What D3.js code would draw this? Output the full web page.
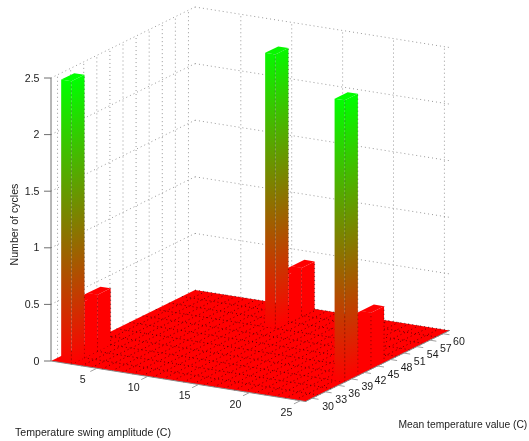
<!DOCTYPE html>
<html>
<head>
<meta charset="utf-8">
<script src="https://cdn.jsdelivr.net/npm/d3@7"></script>
<style>
html,body{margin:0;padding:0;background:#fff;overflow:hidden}
svg{display:block;filter:blur(0.4px)}
text{font-family:"Liberation Sans",Arial,sans-serif;font-size:10.6px;fill:#1c1c1c}
</style>
</head>
<body>
<svg id="chart" width="529" height="441"></svg>
<script>
// Data
const swingBins = [1,2,3,4,5,6,7,8,9,10,11,12,13,14,15,16,17,18,19,20,21,22,23,24,25];
const meanBins = [30,33,36,39,42,45,48,51,54,57,60];
const peakSwing = [2,2,2,11.75,11.75,11.75,25,25,25];
const peakMean = [30,33,36,54,57,60,39,42,45];
const peakCycles = [2.5,0.5,0.5,2.42,0.42,0.42,2.49,0.5,0.5];
const swingTicks = [5,10,15,20,25];
const meanTicks = [30,33,36,39,42,45,48,51,54,57,60];
const cycleTicks = [0,0.5,1,1.5,2,2.5];
const cycleTickLabels = ["0","0.5","1","1.5","2","2.5"];
const xLabel = "Temperature swing amplitude (C)";
const yLabel = "Mean temperature value (C)";
const zLabel = "Number of cycles";

// Oblique (parallel) projection built from linear scales
const uX = d3.scaleLinear().domain([0.5,25.5]).range([0,254.5]);
const uY = d3.scaleLinear().domain([0.5,25.5]).range([0,40.5]);
const vX = d3.scaleLinear().domain([28.5,61.5]).range([0,144]);
const vY = d3.scaleLinear().domain([28.5,61.5]).range([0,-71]);
const zY = d3.scaleLinear().domain([0,2.5]).range([0,-283]);
const color = d3.scaleLinear().domain([0,2.5]).range(["#ff0000","#00ff00"]);
const P = (u,v,z=0)=>[51+uX(u)+vX(v), 361+uY(u)+vY(v)+zY(z)];
const uMin=0.5,uMax=25.5,vMin=28.5,vMax=61.5;

const svg = d3.select("#chart");
const defs = svg.append("defs");
const gridG = svg.append("g");
const axisG = svg.append("g");
const floorG = svg.append("g");
const barG = svg.append("g");
const tickG = svg.append("g");

const seg = (g,a,b)=>g.append("line").attr("x1",a[0]).attr("y1",a[1]).attr("x2",b[0]).attr("y2",b[1]);
const dotted = l=>l.attr("stroke","#999").attr("stroke-width",1).attr("stroke-dasharray","1 3");

// Walls
cycleTicks.forEach(z=>{ if(z>0){
  dotted(seg(gridG,P(uMin,vMin,z),P(uMin,vMax,z)));
  dotted(seg(gridG,P(uMin,vMax,z),P(uMax,vMax,z)));
}});
meanTicks.forEach(v=>dotted(seg(gridG,P(uMin,v,0),P(uMin,v,2.5))));
swingTicks.forEach(u=>dotted(seg(gridG,P(u,vMax,0),P(u,vMax,2.5))));

const pts = a=>a.map(p=>p.join(",")).join(" ");
const edge = (g,a,b,op)=>seg(g,a,b).attr("stroke","#000").attr("stroke-opacity",op)
  .attr("stroke-width",1).attr("stroke-dasharray","1 3");

// Floor of empty cells
floorG.append("polygon")
  .attr("points",pts([P(uMin,vMin),P(uMax,vMin),P(uMax,vMax),P(uMin,vMax)]))
  .attr("fill",color(0));
swingBins.forEach(u=>edge(floorG,P(u+0.5,vMin),P(u+0.5,vMax),0.6));
meanBins.forEach(v=>edge(floorG,P(uMin,v+1.5),P(uMax,v+1.5),0.6));

// Bars, back to front
let gid=0;
function faceGradient(a,b,h){
  const H=[0,zY(h)], d=[b[0]-a[0],b[1]-a[1]], n=[-d[1],d[0]];
  const k=(H[0]*n[0]+H[1]*n[1])/(n[0]*n[0]+n[1]*n[1]);
  const id="g"+(gid++);
  const g=defs.append("linearGradient").attr("id",id).attr("gradientUnits","userSpaceOnUse")
    .attr("x1",a[0]).attr("y1",a[1]).attr("x2",a[0]+n[0]*k).attr("y2",a[1]+n[1]*k);
  g.append("stop").attr("offset",0).attr("stop-color",color(0));
  g.append("stop").attr("offset",1).attr("stop-color",color(h));
  return "url(#"+id+")";
}
d3.range(peakSwing.length)
  .sort((a,b)=>d3.descending(peakMean[a],peakMean[b])||d3.ascending(peakSwing[a],peakSwing[b]))
  .forEach(i=>{
    const uc=peakSwing[i],vc=peakMean[i],h=peakCycles[i];
    const tall=h>1;
    const u0=uc-0.5,u1=uc+0.5,v0=vc-1.5,v1=vc+1.5;
    const a0=P(u0,v0),a1=P(u1,v0),a2=P(u1,v1);
    const t0=P(u0,v0,h),t1=P(u1,v0,h),t2=P(u1,v1,h),t3=P(u0,v1,h);
    barG.append("polygon").attr("points",pts([a0,a1,t1,t0])).attr("fill",tall?faceGradient(a0,a1,h):color(0));
    barG.append("polygon").attr("points",pts([a1,a2,t2,t1])).attr("fill",tall?faceGradient(a1,a2,h):color(0));
    barG.append("polygon").attr("points",pts([t0,t1,t2,t3])).attr("fill",tall?color(h):color(0));
    if(tall){
      seg(barG,a1,t1).attr("stroke","#000").attr("stroke-opacity",0.3).attr("stroke-width",1).attr("stroke-dasharray","2 2");
      edge(barG,a2,t2,0.4);
    } else {
      edge(barG,a2,t2,0.5);
    }
  });

// Axes
const axisStroke = (l,c)=>l.attr("stroke",c).attr("stroke-width",1);
axisStroke(seg(axisG,P(uMin,vMin,0),P(uMin,vMin,2.5)),"#6e6e6e");
axisStroke(seg(tickG,P(uMin,vMin,0),P(uMax,vMin,0)),"#8a8a8a");
axisStroke(seg(tickG,P(uMax,vMin,0),P(uMax,vMax,0)),"#8a8a8a");

cycleTicks.forEach((z,i)=>{
  const p=P(uMin,vMin,z);
  axisStroke(seg(tickG,[p[0]-7,p[1]],p),"#6e6e6e");
  tickG.append("text").attr("x",p[0]-11.5).attr("y",p[1]+3.5).attr("text-anchor","end").text(cycleTickLabels[i]);
});
swingTicks.forEach(u=>{
  const p=P(u,vMin,0);
  axisStroke(seg(tickG,p,[p[0]-6.5,p[1]+3.2]),"#a0a0a0");
  tickG.append("text").attr("x",p[0]-14).attr("y",p[1]+15).attr("text-anchor","middle").text(u);
});
meanTicks.forEach(v=>{
  const p=P(uMax,v,0);
  axisStroke(seg(tickG,p,[p[0]+6.5,p[1]+1]),"#a0a0a0");
  tickG.append("text").attr("x",p[0]+16).attr("y",p[1]+11.5).attr("text-anchor","middle").text(v);
});

// Titles
tickG.append("text").attr("x",15).attr("y",436).text(xLabel);
tickG.append("text").attr("x",398.5).attr("y",428).style("font-size","10.3px").text(yLabel);
tickG.append("text").attr("transform","translate(18,224.5) rotate(-90)").attr("text-anchor","middle").text(zLabel);
</script>
</body>
</html>
